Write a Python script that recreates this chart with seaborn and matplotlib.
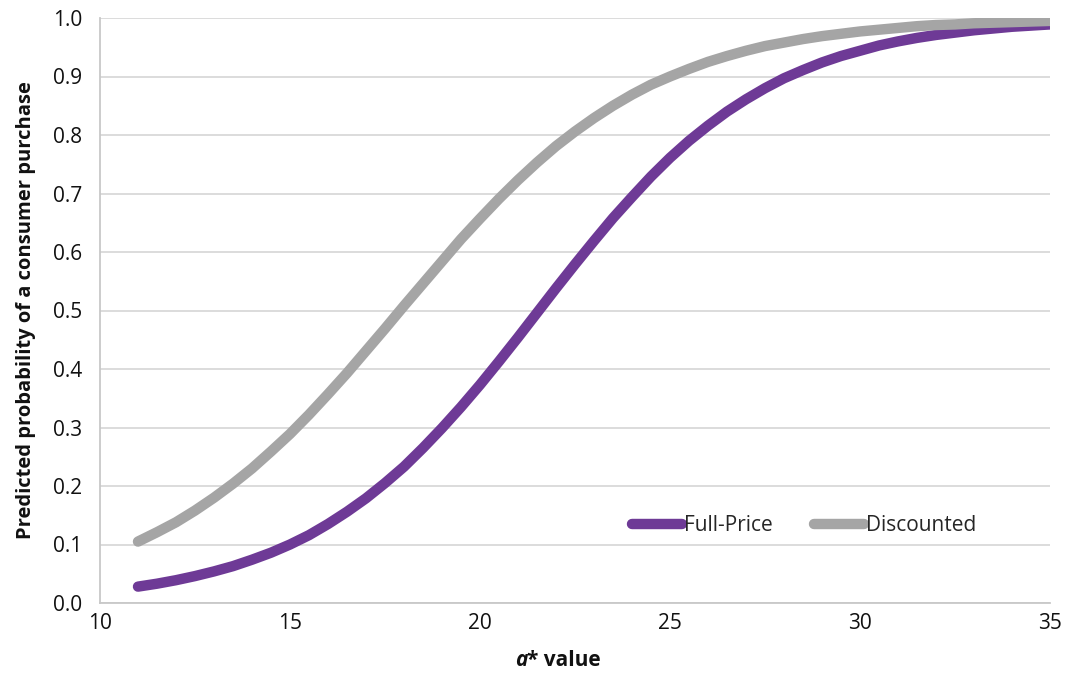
import numpy as np
import pandas as pd
import seaborn as sns
import matplotlib
matplotlib.use("Agg")
import matplotlib.pyplot as plt

a_values = [11, 11.5, 12, 12.5, 13, 13.5, 14, 14.5, 15, 15.5, 16, 16.5, 17, 17.5,
            18, 18.5, 19, 19.5, 20, 20.5, 21, 21.5, 22, 22.5, 23, 23.5, 24, 24.5,
            25, 25.5, 26, 26.5, 27, 27.5, 28, 28.5, 29, 29.5, 30, 30.5, 31, 31.5,
            32, 32.5, 33, 33.5, 34, 34.5, 35]
full_price = [0.028, 0.033, 0.039, 0.046, 0.054, 0.063, 0.074, 0.086, 0.100,
              0.116, 0.135, 0.156, 0.179, 0.205, 0.233, 0.265, 0.299, 0.335,
              0.373, 0.413, 0.454, 0.496, 0.538, 0.579, 0.619, 0.658, 0.694,
              0.729, 0.761, 0.790, 0.816, 0.840, 0.861, 0.880, 0.897, 0.911,
              0.924, 0.935, 0.944, 0.953, 0.960, 0.966, 0.971, 0.975, 0.979,
              0.982, 0.985, 0.987, 0.989]
discounted = [0.105, 0.121, 0.138, 0.158, 0.180, 0.204, 0.230, 0.259, 0.289,
              0.322, 0.357, 0.393, 0.431, 0.469, 0.508, 0.546, 0.584, 0.622,
              0.657, 0.691, 0.723, 0.753, 0.781, 0.806, 0.829, 0.850, 0.869,
              0.886, 0.900, 0.913, 0.925, 0.935, 0.944, 0.952, 0.958, 0.964,
              0.969, 0.973, 0.977, 0.980, 0.983, 0.986, 0.988, 0.989, 0.991,
              0.992, 0.993, 0.994, 0.995]
series_names = ["Full-Price", "Discounted"]
colors = ["#6E3A96", "#A5A5A5"]
x_ticks = [10, 15, 20, 25, 30, 35]
y_ticks = [0.0, 0.1, 0.2, 0.3, 0.4, 0.5, 0.6, 0.7, 0.8, 0.9, 1.0]

sns.set_theme(style="white")
plt.rcParams['font.family'] = ['Open Sans', 'DejaVu Sans']

df = pd.DataFrame({
    "a": a_values * 2,
    "p": full_price + discounted,
    "series": [series_names[0]] * len(a_values) + [series_names[1]] * len(a_values),
})

fig = plt.figure(figsize=(10.72, 6.74), dpi=100)
ax = fig.add_axes([100/1072, 1-603/674, 950/1072, 585/674])

sns.lineplot(data=df, x="a", y="p", hue="series", palette=colors,
             hue_order=series_names, linewidth=7.5, ax=ax, legend=True,
             solid_capstyle="round", zorder=3)

ax.set_xlim(10, 35)
ax.set_ylim(0, 1.0)
ax.set_xticks(x_ticks)
ax.set_yticks(y_ticks)
ax.set_yticklabels([f"{v:.1f}" for v in y_ticks])
ax.yaxis.grid(True, color="#D9D9D9", linewidth=1.3)
ax.set_axisbelow(True)
for s in ["top", "right"]:
    ax.spines[s].set_visible(False)
for s in ["left", "bottom"]:
    ax.spines[s].set_color("#C8C8C8")
    ax.spines[s].set_linewidth(1.3)
ax.tick_params(axis="x", direction="inout", length=9, width=1.3, color="#C8C8C8",
               labelsize=15, pad=3, labelcolor="#111111")
ax.tick_params(axis="y", length=0, labelsize=15, pad=13, labelcolor="#111111")

ax.set_ylabel("Predicted probability of a consumer purchase", fontsize=14.5,
              fontweight="bold", labelpad=12, color="#111111")
ax.set_xlabel("")
# x label with bold-italic "a"
xl_y = 1 - 660/674
fig.text(527/1072, xl_y, "a", fontsize=15, fontweight="bold", fontstyle="italic",
         ha="right", va="center", color="#111111")
fig.text(527/1072, xl_y, "* value", fontsize=15, fontweight="bold",
         ha="left", va="center", color="#111111")

ax.legend(handles=ax.get_legend().legend_handles, labels=series_names,
          loc="center left", bbox_to_anchor=(0.54, 0.132), ncol=2, frameon=False,
          handlelength=2.4, handletextpad=0.1, columnspacing=2.0, fontsize=15)

fig.savefig("out.png", dpi=100)
